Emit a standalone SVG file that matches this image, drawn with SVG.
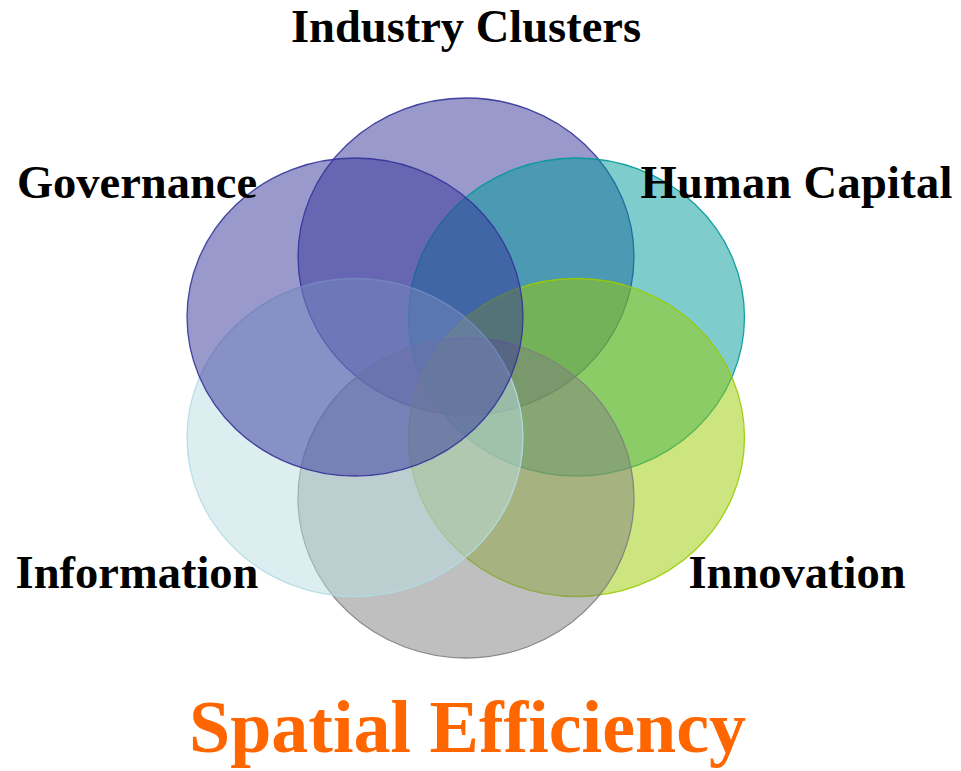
<svg xmlns="http://www.w3.org/2000/svg" width="961" height="771" viewBox="0 0 961 771">
<style>
.c{fill-opacity:0.5;stroke-width:1.3;stroke-opacity:0.9}
.lbl{font-family:"Liberation Serif","Times New Roman",serif;font-weight:bold;font-size:46.5px;fill:#000;text-anchor:middle}
.title{font-family:"Liberation Serif","Times New Roman",serif;font-weight:bold;font-size:74px;fill:#FF6600;text-anchor:middle}
</style>
<rect width="961" height="771" fill="#fff"/>
<g id="industry"><ellipse class="c" cx="466" cy="256.5" rx="168" ry="158.5" fill="#333399" stroke="#333399"/></g>
<g id="human-capital"><ellipse class="c" cx="576.5" cy="317" rx="168" ry="159" fill="#009999" stroke="#009999"/></g>
<g id="innovation"><ellipse class="c" cx="576.5" cy="437.5" rx="168" ry="159" fill="#99CC00" stroke="#99CC00"/></g>
<g id="spatial"><ellipse class="c" cx="466" cy="498" rx="168" ry="160" fill="#7F7F7F" stroke="#7F7F7F"/></g>
<g id="information"><ellipse class="c" cx="355" cy="437.5" rx="168" ry="159" fill="#B9DDE1" stroke="#B2DDE4"/></g>
<g id="governance"><ellipse class="c" cx="355" cy="317" rx="168" ry="159" fill="#333399" stroke="#333399"/></g>
<g id="labels">
<text class="lbl" x="466" y="42">Industry Clusters</text>
<text class="lbl" x="137" y="198">Governance</text>
<text class="lbl" x="796.5" y="198" textLength="312">Human Capital</text>
<text class="lbl" x="137" y="588">Information</text>
<text class="lbl" x="797" y="588">Innovation</text>
<text class="title" x="467.5" y="752">Spatial Efficiency</text>
</g>
</svg>
